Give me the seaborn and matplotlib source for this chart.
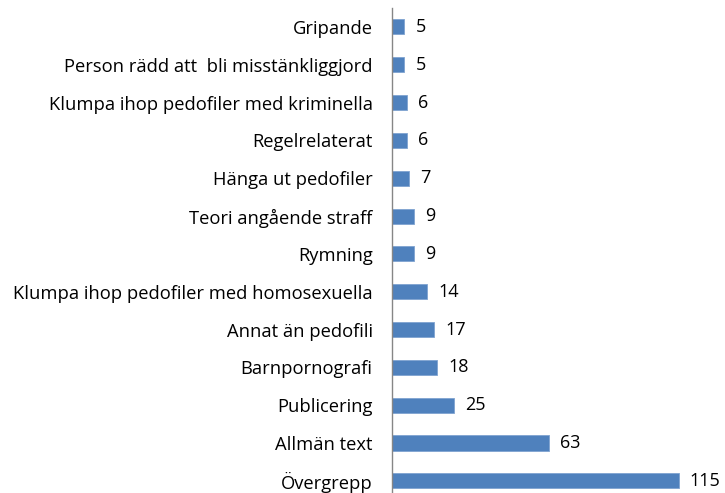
import matplotlib
matplotlib.use("Agg")
import matplotlib.pyplot as plt
import seaborn as sns
import pandas as pd

# category names, top to bottom, and their counts
categories = [
    "Gripande",
    "Person rädd att  bli misstänkliggjord",
    "Klumpa ihop pedofiler med kriminella",
    "Regelrelaterat",
    "Hänga ut pedofiler",
    "Teori angående straff",
    "Rymning",
    "Klumpa ihop pedofiler med homosexuella",
    "Annat än pedofili",
    "Barnpornografi",
    "Publicering",
    "Allmän text",
    "Övergrepp",
]
counts = [5, 5, 6, 6, 7, 9, 9, 14, 17, 18, 25, 63, 115]

df = pd.DataFrame({"kategori": categories, "antal": counts})

sns.set_theme(style="white")
plt.rcParams["font.family"] = ["Open Sans", "DejaVu Sans"]

fig = plt.figure(figsize=(7.25, 4.93), dpi=100)
ax = fig.add_axes([392 / 725, 0.0, 333 / 725, 1 - 8 / 493])

sns.barplot(data=df, x="antal", y="kategori", orient="h", color="#4F81BD",
            saturation=1, width=0.4, edgecolor="#7FA3D0", linewidth=0.6, ax=ax)

ax.set_xlim(0, 133.6)
ax.set_ylim(12.32, -0.5)
ax.bar_label(ax.containers[0], padding=8, fontsize=13, color="black")

for s in ["top", "right", "bottom"]:
    ax.spines[s].set_visible(False)
ax.spines["left"].set_color("#868686")
ax.spines["left"].set_linewidth(1)
ax.set_xticks([])
ax.tick_params(axis="y", length=0, pad=14, labelsize=13.2, labelcolor="black")
ax.set_xlabel("")
ax.set_ylabel("")

fig.savefig("out.png", dpi=100)
